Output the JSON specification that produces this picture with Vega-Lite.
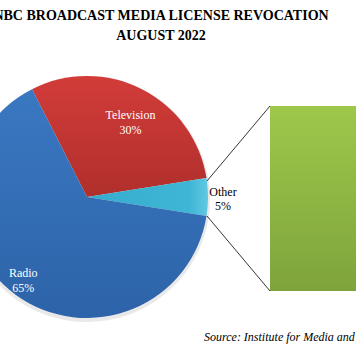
{
  "$schema": "https://vega.github.io/schema/vega-lite/v6.json",
  "width": 356,
  "height": 357,
  "autosize": "none",
  "padding": 0,
  "background": "white",
  "config": {"view": {"stroke": null}},
  "title": {
    "text": ["NBC BROADCAST MEDIA LICENSE  REVOCATION", "AUGUST  2022"],
    "font": "Liberation Serif",
    "fontSize": 14,
    "fontWeight": "bold",
    "color": "black",
    "anchor": "middle",
    "frame": "group",
    "lineHeight": 20,
    "offset": 0,
    "dx": -17,
    "dy": 43
  },
  "datasets": {
    "pie": [
      {"category": "Television", "share": 30, "order": 1},
      {"category": "Other", "share": 5, "order": 2},
      {"category": "Radio", "share": 65, "order": 3}
    ],
    "bar": [
      {"part": "Other", "pct": 100}
    ],
    "connector": [
      {"edge": "top"}
    ],
    "note": [
      {"text": "Source: Institute for Media and Society"}
    ]
  },
  "layer": [
    {
      "data": {"name": "pie"},
      "mark": {"type": "arc", "x": 87, "y": 199, "outerRadius": 123, "color": "#e4e4e4", "opacity": 0.8},
      "encoding": {
        "theta": {"field": "share", "type": "quantitative", "stack": true, "scale": {"range": [-0.4712, 5.8120]}},
        "order": {"field": "order", "type": "ordinal"}
      }
    },
    {
      "data": {"name": "pie"},
      "mark": {"type": "arc", "x": 87, "y": 197, "outerRadius": 121},
      "encoding": {
        "theta": {"field": "share", "type": "quantitative", "stack": true},
        "order": {"field": "order", "type": "ordinal"},
        "color": {
          "condition": [
            {"test": "datum.category === 'Television'", "value": {"gradient": "linear", "x1": 0, "y1": 0, "x2": 0, "y2": 1, "stops": [{"offset": 0, "color": "#D23C39"}, {"offset": 1, "color": "#B02F2C"}]}},
            {"test": "datum.category === 'Other'", "value": {"gradient": "linear", "x1": 0, "y1": 0, "x2": 1, "y2": 0, "stops": [{"offset": 0, "color": "#36ACCE"}, {"offset": 0.85, "color": "#40B6D6"}, {"offset": 1, "color": "#62C8E2"}]}}
          ],
          "value": {"gradient": "linear", "x1": 0, "y1": 0, "x2": 0, "y2": 1, "stops": [{"offset": 0, "color": "#3A78C2"}, {"offset": 1, "color": "#2D63A8"}]}
        }
      }
    },
    {
      "data": {"name": "pie"},
      "transform": [{"calculate": "datum.category + '|' + datum.share + '%'", "as": "label"}],
      "mark": {"type": "text", "x": 87, "y": 197, "radius": 87, "dx": 4, "dy": -4, "align": "center", "baseline": "middle", "lineBreak": "|", "lineHeight": 15, "fontSize": 12, "font": "Liberation Serif", "color": "white"},
      "encoding": {
        "theta": {"field": "share", "type": "quantitative", "stack": true},
        "order": {"field": "order", "type": "ordinal"},
        "text": {"condition": {"test": "datum.category === 'Television'", "field": "label"}, "value": ""}
      }
    },
    {
      "data": {"name": "pie"},
      "transform": [{"calculate": "datum.category + '|' + datum.share + '%'", "as": "label"}],
      "mark": {"type": "text", "x": 87, "y": 197, "radius": 105, "dx": -2, "dy": -9, "align": "center", "baseline": "middle", "lineBreak": "|", "lineHeight": 15, "fontSize": 12, "font": "Liberation Serif", "color": "white"},
      "encoding": {
        "theta": {"field": "share", "type": "quantitative", "stack": true},
        "order": {"field": "order", "type": "ordinal"},
        "text": {"condition": {"test": "datum.category === 'Radio'", "field": "label"}, "value": ""}
      }
    },
    {
      "data": {"name": "pie"},
      "transform": [{"calculate": "datum.category + '|' + datum.share + '%'", "as": "label"}],
      "mark": {"type": "text", "x": 87, "y": 197, "radius": 136, "dy": -5, "align": "center", "baseline": "middle", "lineBreak": "|", "lineHeight": 14, "fontSize": 12, "font": "Liberation Serif", "color": "black"},
      "encoding": {
        "theta": {"field": "share", "type": "quantitative", "stack": true},
        "order": {"field": "order", "type": "ordinal"},
        "text": {"condition": {"test": "datum.category === 'Other'", "field": "label"}, "value": ""}
      }
    },
    {
      "data": {"name": "bar"},
      "mark": {"type": "rect", "x": 270, "x2": 390, "color": {"gradient": "linear", "x1": 0, "y1": 0, "x2": 0, "y2": 1, "stops": [{"offset": 0, "color": "#9DC84B"}, {"offset": 1, "color": "#7EA43B"}]}},
      "encoding": {
        "y": {"field": "pct", "type": "quantitative", "scale": {"domain": [0, 100], "range": [291, 106]}, "axis": null},
        "y2": {"datum": 0}
      }
    },
    {
      "data": {"name": "connector"},
      "mark": {"type": "rule", "color": "black", "strokeWidth": 0.8},
      "encoding": {"x": {"value": 207}, "y": {"value": 181}, "x2": {"value": 270}, "y2": {"value": 106}}
    },
    {
      "data": {"name": "connector"},
      "mark": {"type": "rule", "color": "black", "strokeWidth": 0.8},
      "encoding": {"x": {"value": 207}, "y": {"value": 216}, "x2": {"value": 270}, "y2": {"value": 291}}
    },
    {
      "data": {"name": "note"},
      "mark": {"type": "text", "x": 204, "y": 341, "align": "left", "baseline": "alphabetic", "fontSize": 12, "fontStyle": "italic", "font": "Liberation Serif", "color": "black"},
      "encoding": {"text": {"field": "text", "type": "nominal"}}
    }
  ]
}
